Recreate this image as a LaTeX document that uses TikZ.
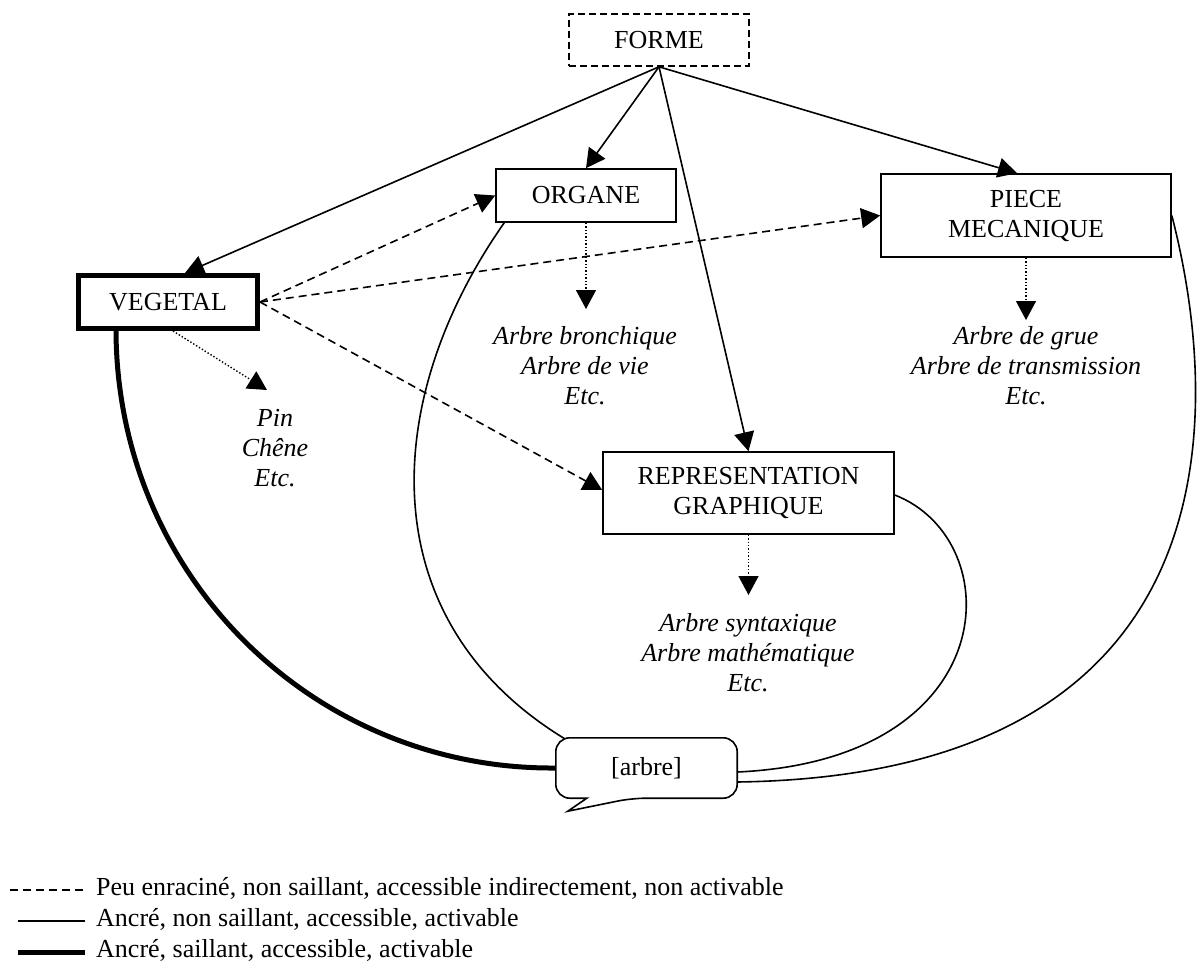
\documentclass[tikz,border=0pt]{standalone}
\usepackage{fontspec}
\setmainfont{Liberation Serif}
\usetikzlibrary{arrows.meta,calc}
\begin{document}
\begin{tikzpicture}[x=1pt,y=-1pt,
  font=\fontsize{26}{30}\selectfont,
  box/.style={draw,line width=1.6pt,align=center,inner sep=0pt},
  itext/.style={align=center,inner sep=0pt,font=\fontsize{26}{30}\selectfont\itshape},
  ar/.style={line width=1.6pt,-{Triangle[length=19pt,width=20pt]}},
  dsh/.style={ar,dash pattern=on 8pt off 5pt},
  dtt/.style={ar,line width=1.4pt,dash pattern=on 1.4pt off 2pt},
  thinl/.style={line width=1.6pt},
  legtext/.style={anchor=west,inner sep=0pt}
]
\useasboundingbox[fill=white] (0,0) rectangle (1202,966);

% boxes
\node[box,dash pattern=on 7pt off 4pt,minimum width=180pt,minimum height=52pt] (forme) at (659,40) {FORME};
\node[box,minimum width=180pt,minimum height=53pt] (organe) at (586,195.5) {ORGANE};
\node[box,line width=5pt,minimum width=179pt,minimum height=53pt] (veg) at (168,302) {VEGETAL};
\node[box,minimum width=290pt,minimum height=83pt] (piece) at (1026,215.5) {PIECE\\MECANIQUE};
\node[box,minimum width=291pt,minimum height=82pt] (rep) at (748.5,493) {REPRESENTATION\\GRAPHIQUE};
\node[minimum width=181pt,minimum height=60pt,inner sep=0pt] (arbre) at (646.5,768) {[arbre]};
\draw[thinl,rounded corners=14pt] (arbre.west) |- (arbre.north east) |- ($(arbre.south west)+(76,0)$)
  [sharp corners] -- ($(arbre.south west)+(12,13)$) -- ($(arbre.south west)+(31,0)$)
  [rounded corners=14pt] -| (arbre.west) -- cycle;

% example texts
\node[itext] (tveg) at (275,448) {Pin\\Chêne\\Etc.};
\node[itext] (torg) at (585,366) {Arbre bronchique\\Arbre de vie\\Etc.};
\node[itext] (tpie) at (1026,366) {Arbre de grue\\Arbre de transmission\\Etc.};
\node[itext] (trep) at (748,653) {Arbre syntaxique\\Arbre mathématique\\Etc.};

% arrows from FORME
\draw[ar] (forme.south) -- ($(veg.north)+(17,0)$);
\draw[ar] (forme.south) -- (organe.north);
\draw[ar] (forme.south) -- ($(piece.north)+(-9,0)$);
\draw[ar] (forme.south) -- (rep.north);

% dashed arrows from VEGETAL
\draw[dsh] (veg.east) -- (organe.west);
\draw[dsh] (veg.east) -- (piece.west);
\draw[dsh] (veg.east) -- ($(rep.west)+(0,-3)$);

% dotted arrows to examples
\coordinate (p1) at (267,390);
\coordinate (p2) at (586,309);
\coordinate (p3) at (1026,320);
\coordinate (p4) at (748.5,595);
\draw[dtt] ($(veg.south)+(5,0)$) -- (p1);
\draw[dtt] (organe.south) -- (p2);
\draw[dtt] (piece.south) -- (p3);
\draw[dtt] (rep.south) -- (p4);

% curves to [arbre]
\draw[line width=5pt] ($(veg.south west)+(40,-2)$) .. controls (116,575) and (313,770) .. (arbre.west);
\draw[thinl] ($(organe.south west)+(9,0)$) .. controls (380,400) and (370,620) .. ($(arbre.north west)+(9,1)$);
\draw[thinl] ($(rep.east)+(0,2)$) .. controls (1010,540) and (1005,760) .. ($(arbre.east)+(0,4)$);
\draw[thinl] (piece.east) .. controls (1222,410) and (1238,775) .. ($(arbre.east)+(0,14)$);

% legend
\node[legtext] (l1) at (96,888) {Peu enraciné, non saillant, accessible indirectement, non activable};
\node[legtext] (l2) at (96,919) {Ancré, non saillant, accessible, activable};
\node[legtext] (l3) at (96,950) {Ancré, saillant, accessible, activable};
\draw[line width=1.6pt,dash pattern=on 8pt off 5pt] (10,890) -- ($(l1.west)+(-11,2)$);
\draw[line width=1.6pt] (18,921) -- ($(l2.west)+(-11,2)$);
\draw[line width=5pt] (18,952) -- ($(l3.west)+(-11,2)$);
\end{tikzpicture}
\end{document}
